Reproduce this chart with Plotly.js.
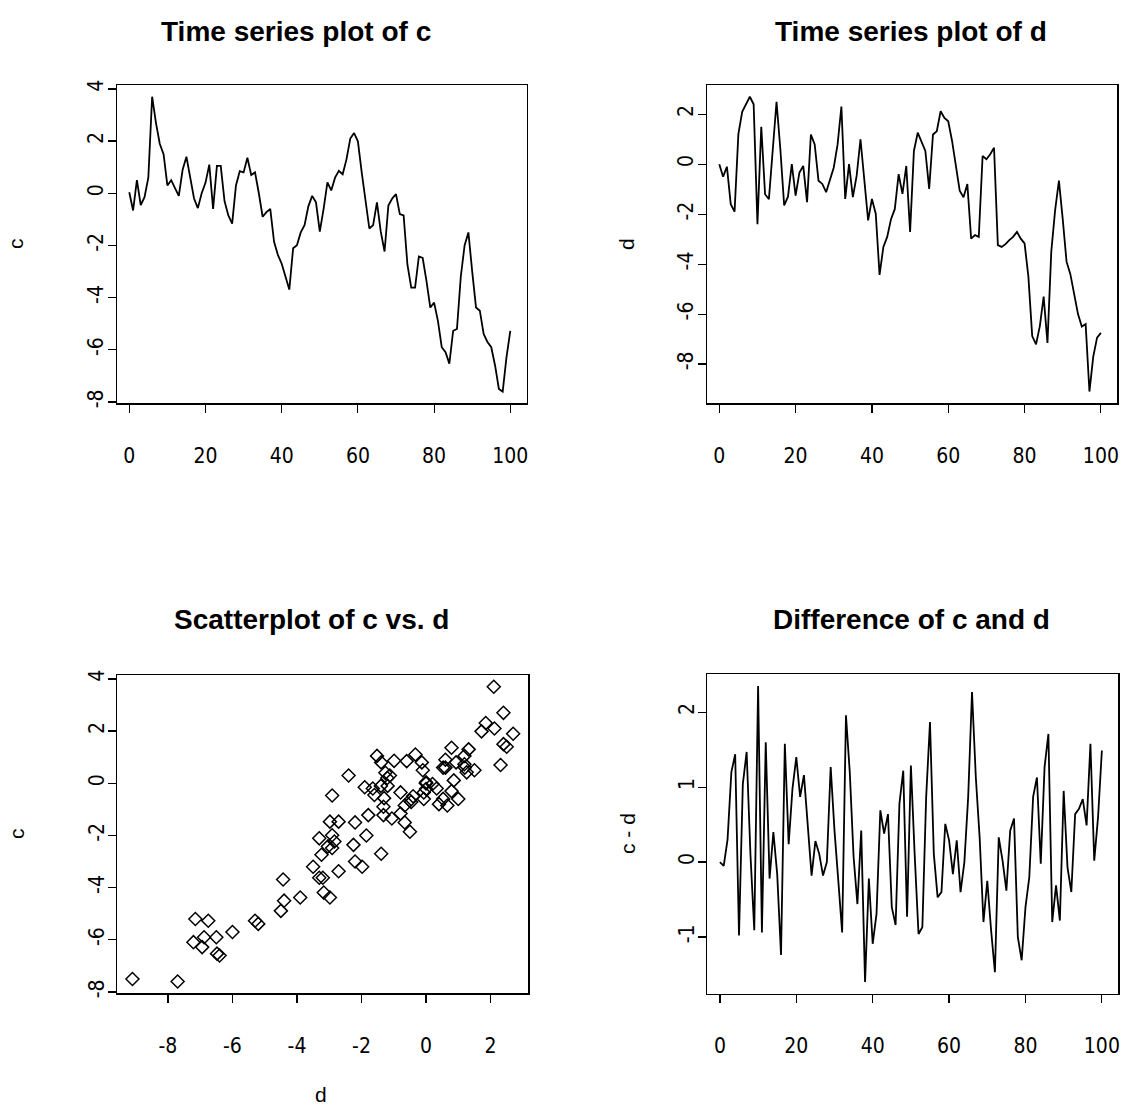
<!DOCTYPE html>
<html><head><meta charset="utf-8">
<script src="https://cdn.plot.ly/plotly-3.0.1.min.js"></script>
<style>body{margin:0;background:#fff}#chart{width:1123px;height:1110px}</style>
</head><body><div id="chart"></div>
<script>
// time index 0..100
const timeIndex = [];
for (let i = 0; i <= 100; i++) timeIndex.push(i);

const cSeries = [
  0.04, -0.66, 0.5, -0.45, -0.15, 0.6, 3.7, 2.7, 1.9, 1.5,
  0.3, 0.5, 0.2, -0.1, 0.9, 1.4, 0.6, -0.2, -0.57, 0.0,
  0.4, 1.1, -0.6, 1.05, 1.05, -0.3, -0.85, -1.16, 0.3, 0.85,
  0.8, 1.36, 0.7, 0.8, 0.0, -0.9, -0.72, -0.6, -1.86, -2.36,
  -2.7, -3.2, -3.69, -2.11, -1.99, -1.5, -1.22, -0.5, -0.1, -0.35,
  -1.47, -0.6, 0.42, 0.11, 0.6, 0.86, 0.73, 1.3, 2.1, 2.31,
  1.99, 0.8, -0.22, -1.35, -1.22, -0.35, -1.47, -2.23, -0.47, -0.2,
  -0.03, -0.8, -0.85, -2.74, -3.62, -3.62, -2.42, -2.48, -3.37, -4.38,
  -4.19, -4.89, -5.9, -6.09, -6.53, -5.27, -5.2, -3.2, -2.0, -1.5,
  -3.0, -4.38, -4.5, -5.39, -5.7, -5.9, -6.6, -7.5, -7.6, -6.28,
  -5.27
];

const dSeries = [
  0.0, -0.5, -0.1, -1.6, -1.9, 1.2, 2.1, 2.4, 2.7, 2.4,
  -2.4, 1.5, -1.2, -1.4, 0.6, 2.5, 0.6, -1.65, -1.3, 0.0,
  -1.26, -0.33, -0.07, -1.52, 1.19, 0.79, -0.66, -0.79, -1.12, -0.6,
  -0.13, 0.79, 2.31, -1.39, 0.0, -1.32, -0.46, 1.0, -0.5, -2.25,
  -1.39, -1.98, -4.43, -3.31, -2.91, -2.2, -1.79, -0.4, -1.19, -0.07,
  -2.71, 0.53, 1.26, 0.86, 0.53, -0.99, 1.19, 1.32, 2.12, 1.85,
  1.72, 0.93, 0.0, -1.06, -1.32, -0.79, -2.98, -2.84, -2.91, 0.33,
  0.2, 0.4, 0.66, -3.24, -3.31, -3.2, -3.04, -2.91, -2.71, -2.98,
  -3.17, -4.5, -6.88, -7.21, -6.48, -5.3, -7.15, -3.5, -1.85, -0.66,
  -2.2, -3.9, -4.4, -5.2, -6.0, -6.5, -6.4, -9.1, -7.7, -6.94,
  -6.75
];

const diffSeries = [
  0.0, -0.05, 0.3, 1.2, 1.44, -0.98, 1.04, 1.47, 0.1, -0.91,
  2.35, -0.94, 1.6, -0.22, 0.4, -0.16, -1.24, 1.58, 0.24, 0.98,
  1.4, 0.87, 1.16, 0.55, -0.18, 0.28, 0.11, -0.18, 0.0, 1.27,
  0.42, -0.25, -0.94, 1.96, 1.2, 0.07, -0.56, 0.42, -1.6, -0.22,
  -1.09, -0.69, 0.69, 0.38, 0.64, -0.6, -0.84, 0.78, 1.22, -0.73,
  1.29, 0.09, -0.96, -0.87, 0.87, 1.87, 0.11, -0.47, -0.4, 0.51,
  0.29, -0.16, 0.29, -0.4, 0.0, 0.87, 2.27, 1.13, 0.33, -0.8,
  -0.25, -0.91, -1.47, 0.33, 0.02, -0.38, 0.42, 0.58, -1.0, -1.31,
  -0.6, -0.2, 0.87, 1.13, -0.02, 1.27, 1.71, -0.8, -0.31, -0.78,
  0.95, -0.07, -0.4, 0.64, 0.71, 0.84, 0.49, 1.58, 0.02, 0.6,
  1.49
];

const timeTicks = [0, 20, 40, 60, 80, 100];
const cTicks = [-8, -6, -4, -2, 0, 2, 4];
const dTicks = [-8, -6, -4, -2, 0, 2];
const diffTicks = [-1, 0, 1, 2];

const W = 1123, H = 1110;
const tickFont = {family: '"Liberation Sans Narrow", "Arial Narrow", "DejaVu Sans Condensed", "Liberation Sans", Arial, sans-serif', size: 21, color: '#000'};
function px2fx(a, b) { return [a / W, b / W]; }
function px2fy(top, bottom) { return [(H - bottom) / H, (H - top) / H]; }

function axisBase(extra) {
  return Object.assign({
    showgrid: false, zeroline: false, showline: true, mirror: true,
    linecolor: '#000', linewidth: 1.2, ticks: 'outside', ticklen: 8, tickwidth: 1.2,
    tickcolor: '#000', tickfont: tickFont, tickmode: 'array', fixedrange: true
  }, extra);
}
function xAx(domain, range, ticks, anchor) {
  return axisBase({domain: domain, range: range, tickvals: ticks, ticktext: ticks.map(String),
    anchor: anchor, ticklabelstandoff: 25});
}
function yAx(domain, range, ticks, anchor) {
  return axisBase({domain: domain, range: range, tickvals: ticks, ticktext: ticks.map(String),
    anchor: anchor, tickangle: -90, ticklabelstandoff: -4});
}

const lineStyle = {color: '#000', width: 1.8};
const traces = [
  {x: timeIndex, y: cSeries, type: 'scatter', mode: 'lines', line: lineStyle, xaxis: 'x', yaxis: 'y'},
  {x: timeIndex, y: dSeries, type: 'scatter', mode: 'lines', line: lineStyle, xaxis: 'x2', yaxis: 'y2'},
  {x: dSeries, y: cSeries, type: 'scatter', mode: 'markers',
   marker: {symbol: 'diamond-open', size: 10, color: '#000', line: {color: '#000', width: 1.5}},
   xaxis: 'x3', yaxis: 'y3'},
  {x: timeIndex, y: diffSeries, type: 'scatter', mode: 'lines', line: lineStyle, xaxis: 'x4', yaxis: 'y4'}
];

const tRange = [-3.3, 104.3];
const titleFont = {family: '"Liberation Sans", Arial, sans-serif', size: 28, color: '#000'};
const labFont = {family: '"Liberation Sans Narrow", "Liberation Sans", Arial, sans-serif', size: 21, color: '#000'};
function ann(text, x, y, font, angle) {
  return {text: text, x: x / W, y: (H - y) / H, xref: 'paper', yref: 'paper', showarrow: false,
    xanchor: 'center', yanchor: 'middle', font: font, textangle: angle || 0};
}

const layout = {
  width: W, height: H, showlegend: false,
  margin: {l: 0, r: 0, t: 0, b: 0},
  paper_bgcolor: '#fff', plot_bgcolor: '#fff',
  xaxis: xAx(px2fx(116.7, 526.7), tRange, timeTicks, 'y'),
  yaxis: yAx(px2fy(85, 403.3), [-8.05, 4.15], cTicks, 'x'),
  xaxis2: xAx(px2fx(706.7, 1117.3), tRange, timeTicks, 'y2'),
  yaxis2: yAx(px2fy(85, 403.3), [-9.57, 3.17], dTicks, 'x2'),
  xaxis3: xAx(px2fx(117.3, 528.3), [-9.57, 3.17], dTicks, 'y3'),
  yaxis3: yAx(px2fy(675, 993.3), [-8.05, 4.15], cTicks, 'x3'),
  xaxis4: xAx(px2fx(707.3, 1118.3), tRange, timeTicks, 'y4'),
  yaxis4: yAx(px2fy(674, 994), [-1.76, 2.51], diffTicks, 'x4'),
  annotations: [
    ann('<b>Time series plot of c</b>', 296, 31, titleFont),
    ann('<b>Time series plot of d</b>', 911, 31, titleFont),
    ann('<b>Scatterplot of c vs. d</b>', 311, 619, titleFont),
    ann('<b>Difference of c and d</b>', 911, 619, titleFont),
    ann('c', 16, 244, labFont, -90),
    ann('d', 627, 244, labFont, -90),
    ann('c', 16, 834, labFont, -90),
    ann('c - d', 627, 834, labFont, -90),
    ann('d', 321, 1094, labFont)
  ]
};

Plotly.newPlot('chart', traces, layout, {staticPlot: true, displayModeBar: false});
</script></body></html>
